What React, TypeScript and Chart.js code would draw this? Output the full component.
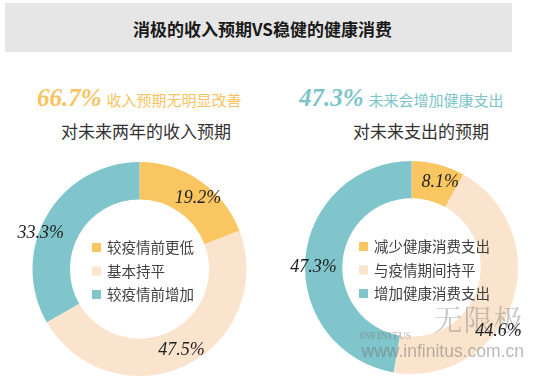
import React, { useEffect, useRef } from "react";
import { Chart, registerables } from "chart.js";

Chart.register(...registerables);

const titleText = "消极的收入预期VS稳健的健康消费";

const leftHeadlineValue = "66.7%";
const leftHeadlineText = "收入预期无明显改善";
const leftSubtitle = "对未来两年的收入预期";
const leftCategories = ["较疫情前更低", "基本持平", "较疫情前增加"];
const leftValues = [19.2, 47.5, 33.3];

const rightHeadlineValue = "47.3%";
const rightHeadlineText = "未来会增加健康支出";
const rightSubtitle = "对未来支出的预期";
const rightCategories = ["减少健康消费支出", "与疫情期间持平", "增加健康消费支出"];
const rightValues = [8.1, 44.6, 47.3];

const watermarkName = "无限极";
const watermarkBrand = "INFINITUS";
const watermarkUrl = "www.infinitus.com.cn";

const sliceColors = ["#FAC662", "#FBE4CD", "#7FC5CB"];
const CJK = '"Noto Sans CJK SC", "Noto Sans", sans-serif';
const SERIF = '"Liberation Serif", "DejaVu Serif", serif';

const donutText = {
  id: "donutText",
  afterDatasetsDraw(chart: any, _args: any, opts: any) {
    const ctx = chart.ctx;
    const meta = chart.getDatasetMeta(0);
    const ds = chart.data.datasets[0];
    const labels = chart.data.labels as string[];
    const cx = meta.data[0].x;
    const cy = meta.data[0].y;

    // legend inside the hole
    labels.forEach((l, i) => {
      const ry = cy + opts.legendTop + i * 23.5;
      ctx.save();
      ctx.fillStyle = ds.backgroundColor[i];
      ctx.fillRect(cx + opts.legendLeft, ry - 4.5, 9, 9);
      ctx.font = `14.5px ${CJK}`;
      ctx.fillStyle = "#404040";
      ctx.textAlign = "left";
      ctx.textBaseline = "middle";
      ctx.fillText(l, cx + opts.legendLeft + 15, ry);
      ctx.restore();
    });

    // watermark (above arcs, below value labels)
    if (opts.watermark) {
      ctx.save();
      ctx.textBaseline = "middle";
      ctx.textAlign = "left";
      ctx.fillStyle = "rgba(125,125,125,0.42)";
      ctx.font = `29px "Noto Serif CJK SC", ${SERIF}`;
      const chars = watermarkName.split("");
      chars.forEach((c, k) => ctx.fillText(c, cx + 22 + k * 30, cy + 52));
      ctx.font = `bold 10px ${SERIF}`;
      ctx.fillText(watermarkBrand, cx - 52, cy + 69);
      ctx.font = `17.5px "Liberation Sans", sans-serif`;
      ctx.fillStyle = "rgba(115,115,115,0.5)";
      ctx.fillText(watermarkUrl, cx - 50, cy + 85);
      ctx.restore();
    }

    meta.data.forEach((arc: any, i: number) => {
      const { x, y, startAngle, endAngle } = arc.getProps(["x", "y", "startAngle", "endAngle"], true);
      const p = opts.placements[i];
      const mid = (startAngle + endAngle) / 2 + (p[0] * Math.PI) / 180;
      ctx.save();
      ctx.font = `italic 18px ${SERIF}`;
      ctx.fillStyle = "#1e1e1e";
      ctx.textAlign = "center";
      ctx.textBaseline = "middle";
      ctx.fillText(Number(ds.data[i]).toFixed(1) + "%", x + p[1] * Math.cos(mid), y + p[1] * Math.sin(mid));
      ctx.restore();
    });
  },
};

function Donut(props: {
  labels: string[];
  values: number[];
  left: number;
  padding: any;
  placements: number[][];
  legendLeft: number;
  legendTop: number;
  watermark?: boolean;
}) {
  const ref = useRef<HTMLCanvasElement>(null);
  useEffect(() => {
    const chart = new Chart(ref.current as HTMLCanvasElement, {
      type: "doughnut",
      data: {
        labels: props.labels,
        datasets: [{ data: props.values, backgroundColor: sliceColors, borderWidth: 0 }],
      },
      options: {
        animation: false,
        responsive: false,
        cutout: "65%",
        layout: { padding: props.padding },
        plugins: {
          legend: { display: false },
          tooltip: { enabled: false },
          donutText: {
            placements: props.placements,
            legendLeft: props.legendLeft,
            legendTop: props.legendTop,
            watermark: !!props.watermark,
          },
        } as any,
      },
      plugins: [donutText],
    });
    return () => chart.destroy();
  }, []);
  return (
    <canvas
      ref={ref}
      width={277}
      height={236}
      style={{ position: "absolute", left: props.left, top: 150, width: 277, height: 236 }}
    />
  );
}

export default function App() {
  return (
    <div style={{ position: "fixed", left: 0, top: 0, width: 554, height: 386, background: "#fff", overflow: "hidden" }}>
      <div
        style={{
          position: "absolute", left: 5, top: 3, width: 507, height: 49, background: "#E6E6E6",
          font: `bold 17px ${CJK}`, color: "#1a1a1a", lineHeight: "51px", textAlign: "center",
        }}
      >
        <span style={{ position: "relative", left: 4 }}>{titleText}</span>
      </div>

      <div style={{ position: "absolute", left: 37, top: 83, height: 30, display: "flex", alignItems: "baseline", color: "#F9C45F", whiteSpace: "nowrap" }}>
        <span style={{ font: `italic bold 25px ${SERIF}`, lineHeight: "30px" }}>{leftHeadlineValue}</span>
        <span style={{ font: `15px ${CJK}`, marginLeft: 5 }}>{leftHeadlineText}</span>
      </div>
      <div style={{ position: "absolute", left: 46, width: 200, top: 118, lineHeight: "24px", textAlign: "center", font: `17px ${CJK}`, color: "#333" }}>
        {leftSubtitle}
      </div>

      <div style={{ position: "absolute", left: 299, top: 83, height: 30, display: "flex", alignItems: "baseline", color: "#7CC4CA", whiteSpace: "nowrap" }}>
        <span style={{ font: `italic bold 25px ${SERIF}`, lineHeight: "30px" }}>{rightHeadlineValue}</span>
        <span style={{ font: `15px ${CJK}`, marginLeft: 5 }}>{rightHeadlineText}</span>
      </div>
      <div style={{ position: "absolute", left: 321, width: 200, top: 118, lineHeight: "24px", textAlign: "center", font: `17px ${CJK}`, color: "#333" }}>
        {rightSubtitle}
      </div>

      <Donut
        labels={leftCategories}
        values={leftValues}
        left={0}
        padding={{ left: 32, right: 30, top: 12, bottom: 10 }}
        placements={[[5, 92], [-2, 91.5], [-10, 105]]}
        legendLeft={-47.5}
        legendTop={-21.5}
      />
      <Donut
        labels={rightCategories}
        values={rightValues}
        left={277}
        padding={{ left: 28, right: 36, top: 11, bottom: 12 }}
        placements={[[4, 90], [17, 108], [-5, 98]]}
        legendLeft={-52.5}
        legendTop={-21}
        watermark
      />
    </div>
  );
}
